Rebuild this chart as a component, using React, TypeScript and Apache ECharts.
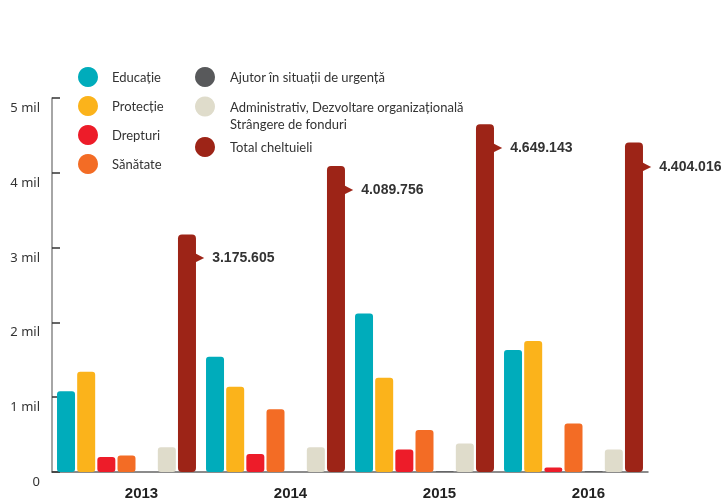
import React, { useEffect, useRef } from "react";
import * as echarts from "echarts";

const years = ["2013", "2014", "2015", "2016"];
const educatie = [1080000, 1540000, 2120000, 1630000];
const protectie = [1340000, 1140000, 1260000, 1750000];
const drepturi = [200000, 240000, 300000, 60000];
const sanatate = [220000, 840000, 560000, 650000];
const ajutor = [0, 0, 10000, 10000];
const administrativ = [330000, 330000, 380000, 300000];
const totalCheltuieli = [3175605, 4089756, 4649143, 4404016];

const seriesNames = [
  "Educație",
  "Protecție",
  "Drepturi",
  "Sănătate",
  "Ajutor în situații de urgență",
  "Administrativ, Dezvoltare organizațională Strângere de fonduri",
  "Total cheltuieli",
];
const seriesData = [educatie, protectie, drepturi, sanatate, ajutor, administrativ, totalCheltuieli];
const colors = ["#00acbb", "#fbb31b", "#ed1c29", "#f36c25", "#58595b", "#dfdccb", "#9d2417"];

const fmtDots = (v: number) => String(Math.round(v)).replace(/\B(?=(\d{3})+(?!\d))/g, ".");

export default function App() {
  const ref = useRef<HTMLDivElement>(null);
  useEffect(() => {
    if (!ref.current) return;
    const chart = echarts.init(ref.current, null, { renderer: "svg" });
    const legendText = { color: "#333", fontFamily: "Lato", fontSize: 13 };
    const legendBase = {
      orient: "vertical" as const,
      icon: "circle",
      itemWidth: 20,
      itemHeight: 20,
      padding: 0,
      selectedMode: false,
    };
    const option: any = {
      animation: false,
      color: colors,
      legend: [
        {
          ...legendBase,
          left: 78,
          top: 67,
          itemGap: 9,
          data: seriesNames.slice(0, 4),
          textStyle: { ...legendText, padding: [0, 0, 0, 9] },
        },
        {
          ...legendBase,
          left: 195,
          top: 67,
          data: [seriesNames[4]],
          textStyle: { ...legendText, padding: [0, 0, 0, 10] },
        },
        {
          ...legendBase,
          left: 195,
          top: 81,
          data: [seriesNames[5]],
          formatter: () => "\nAdministrativ, Dezvoltare organizațională\nStrângere de fonduri",
          textStyle: { ...legendText, lineHeight: 17, padding: [0, 0, 0, 10] },
        },
        {
          ...legendBase,
          left: 195,
          top: 137,
          data: [seriesNames[6]],
          textStyle: { ...legendText, padding: [0, 0, 0, 10] },
        },
      ],
      grid: { left: 52, right: 73, top: 98, bottom: 26, containLabel: false },
      xAxis: {
        type: "category",
        data: years,
        axisLine: { lineStyle: { color: "#666", width: 1.5 } },
        axisTick: { inside: true, length: 8, lineStyle: { color: "#555", width: 1.5 } },
        axisLabel: {
          color: "#222",
          fontFamily: "Liberation Sans",
          fontWeight: "bold",
          fontSize: 15,
          margin: 13,
          padding: [0, 0, 0, 30],
        },
      },
      yAxis: {
        type: "value",
        min: 0,
        max: 5000000,
        interval: 1000000,
        splitLine: { show: false },
        axisLine: { show: true, lineStyle: { color: "#888", width: 1.5 } },
        axisTick: { show: true, inside: true, length: 8, lineStyle: { color: "#333", width: 1.5 } },
        axisLabel: {
          color: "#333",
          fontFamily: "Noto Sans",
          fontSize: 13,
          margin: 12,
          verticalAlign: "top",
          lineHeight: 18,
          formatter: (v: number) => (v === 0 ? "0" : `${v / 1000000} mil`),
        },
      },
      series: seriesNames.map((name, i) => ({
        name,
        type: "bar",
        data: seriesData[i],
        barWidth: 18,
        barGap: "12%",
        itemStyle: { color: colors[i], borderRadius: i === 6 ? 4 : 3 },
        label:
          i === 6
            ? {
                show: true,
                position: [17, 23],
                align: "left",
                verticalAlign: "middle",
                formatter: (p: any) => `{a|▶}{b|${fmtDots(p.value)}}`,
                rich: {
                  a: { color: colors[6], fontSize: 12, fontFamily: "DejaVu Sans", padding: [0, 8, 0, 0] },
                  b: {
                    color: "#333",
                    fontSize: 14,
                    fontWeight: "bold",
                    fontFamily: "Liberation Sans",
                  },
                },
              }
            : { show: false },
      })),
    };
    chart.setOption(option);
    return () => chart.dispose();
  }, []);
  return (
    <div
      ref={ref}
      style={{ position: "fixed", left: 0, top: 0, width: 721, height: 500 }}
    />
  );
}
